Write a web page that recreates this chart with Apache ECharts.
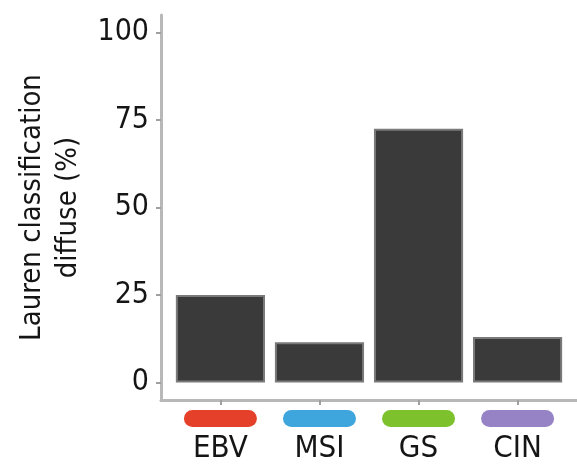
<!DOCTYPE html>
<html>
<head>
<meta charset="utf-8">
<script src="https://cdn.jsdelivr.net/npm/echarts@6/dist/echarts.min.js"></script>
<style>
  html, body { margin: 0; padding: 0; background: #fff; }
  #chart { width: 577px; height: 473px; }
</style>
</head>
<body>
<div id="chart"></div>
<script>
// data
const subtypes = ['EBV', 'MSI', 'GS', 'CIN']
const positions = [1, 2, 3, 4]
const diffusePct = [25, 11.5, 72.5, 13]
const subtypeColors = ['#e5402a', '#3ea6dc', '#7dc12c', '#9583c6']
const yTicks = [0, 25, 50, 75, 100]

const FONT = "'Liberation Sans Narrow', 'DejaVu Sans Condensed', 'Liberation Sans', sans-serif"

const rich = { t: { fontSize: 31, fontFamily: FONT, color: '#151515', lineHeight: 34, padding: [9, 0, 0, 0] } }
subtypeColors.forEach((c, i) => {
  rich['p' + i] = { width: 73, height: 17, backgroundColor: c, borderRadius: 9 }
})

const chart = echarts.init(document.getElementById('chart'))

chart.setOption({
  backgroundColor: '#fff',
  animation: false,
  grid: { left: 161, top: 15, width: 418, bottom: 73 },
  xAxis: {
    type: 'value',
    min: 0.4,
    max: 4.6,
    splitLine: { show: false },
    axisLine: { show: true, onZero: false, lineStyle: { color: '#b8b8b8', width: 3 } },
    axisTick: { show: true, length: 5, customValues: positions, lineStyle: { color: '#a0a0a0', width: 2 } },
    axisLabel: {
      customValues: positions,
      margin: 10,
      formatter: (v) => {
        const i = positions.indexOf(v)
        return '{p' + i + '|\u00a0}\n{t|' + subtypes[i] + '}'
      },
      rich: rich
    }
  },
  yAxis: {
    type: 'value',
    min: -5,
    max: 105,
    name: 'Lauren classification\ndiffuse (%)',
    nameLocation: 'middle',
    nameRotate: 90,
    nameGap: 75,
    nameTextStyle: { fontSize: 29, fontFamily: FONT, color: '#151515', lineHeight: 36 },
    splitLine: { show: false },
    axisLine: { show: true, onZero: false, lineStyle: { color: '#b8b8b8', width: 3 } },
    axisTick: { show: true, length: 5, customValues: yTicks, lineStyle: { color: '#a0a0a0', width: 2 } },
    axisLabel: {
      customValues: yTicks,
      margin: 12,
      fontSize: 30,
      fontFamily: FONT,
      color: '#151515'
    }
  },
  series: [{
    type: 'bar',
    data: positions.map((p, i) => [p, diffusePct[i]]),
    barWidth: '90%',
    itemStyle: { color: '#3a3a3a', borderColor: '#7a7a7a', borderWidth: 2 }
  }]
})
</script>
</body>
</html>
